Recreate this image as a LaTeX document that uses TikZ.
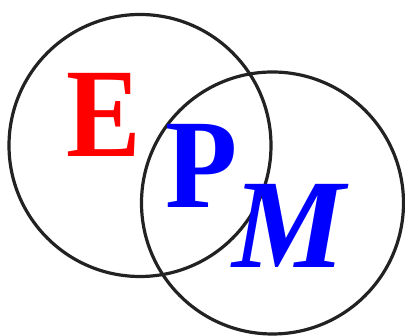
\documentclass[tikz,border=0pt]{standalone}
\usepackage{fontspec}
\setmainfont{Liberation Serif}
\definecolor{ring}{HTML}{222222}
\begin{document}
\begin{tikzpicture}[x=1pt,y=1pt,
  ringstyle/.style={draw=ring,line width=3.2pt,circle,minimum size=262pt,inner sep=0pt},
  letter/.style={inner sep=0pt,anchor=base,font=\fontsize{127}{127}\selectfont\bfseries}]
\useasboundingbox (0,0) rectangle (405,336);
\node[ringstyle] (c1) at (140,190.5) {};
\node[ringstyle] (c2) at (272.5,133) {};
\node[letter,text={rgb,255:red,255;green,0;blue,0}] (e) at (104,179) {\scalebox{0.88}[1]{E}};
\node[letter,text={rgb,255:red,0;green,0;blue,255}] (p) at (202,128) {\scalebox{0.93}[1]{P}};
\node[letter,text={rgb,255:red,0;green,0;blue,255},font=\fontsize{127}{127}\selectfont\bfseries\itshape] (m) at (289,68) {M};
\end{tikzpicture}
\end{document}
